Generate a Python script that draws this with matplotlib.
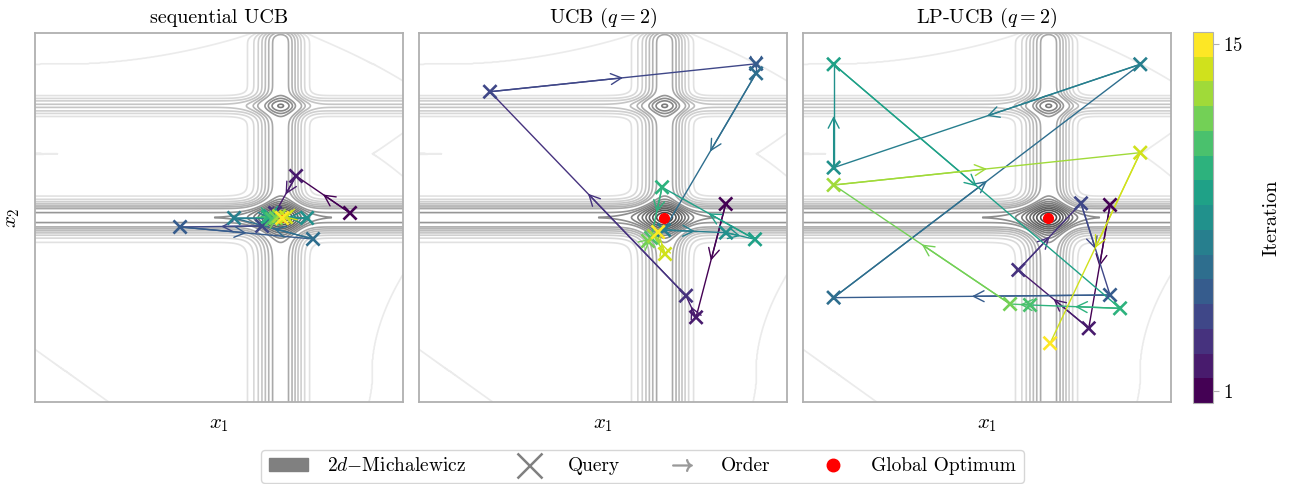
import numpy as np
import matplotlib.pyplot as plt
import matplotlib.colors as mcolors
import matplotlib.patches as mpatches
from matplotlib.cm import ScalarMappable
from matplotlib.lines import Line2D

plt.rcParams['font.family'] = 'serif'
plt.rcParams['font.serif'] = ['cmr10']
plt.rcParams['mathtext.fontset'] = 'cm'
plt.rcParams['axes.formatter.use_mathtext'] = True
plt.rcParams['axes.unicode_minus'] = False

#----------------------------------------------------------------
#   queries (x1, x2) per iteration
#----------------------------------------------------------------
seq_x1 = [2.913, 2.360, 2.145, 2.012, 1.172, 2.534, 1.725, 2.473,
          2.094, 2.073, 2.114, 2.155, 2.186, 2.257, 2.217]
seq_x2 = [1.617, 1.995, 1.617, 1.484, 1.474, 1.351, 1.566, 1.566,
          1.586, 1.576, 1.556, 1.566, 1.586, 1.576, 1.566]

ucb_x1 = [2.828, 2.524, 2.421, 0.413, 3.139, 3.139, 2.196, 2.831,
          3.128, 2.176, 2.063, 2.032, 2.094, 2.206, 2.135]
ucb_x2 = [1.709, 0.551, 0.772, 2.856, 3.141, 3.044, 1.443, 1.416,
          1.348, 1.880, 1.362, 1.331, 1.382, 1.198, 1.423]

lp_x1 = [2.831, 2.613, 1.892, 2.534, 2.831, 0.000, 3.141, 0.000,
         0.000, 2.934, 2.012, 1.807, 0.000, 3.141, 2.217]
lp_x2 = [1.699, 0.439, 1.035, 1.716, 0.779, 0.752, 3.136, 2.080,
         3.136, 0.643, 0.677, 0.687, 1.903, 2.233, 0.286]

x_opt = [2.20, 1.57]
titles = ['sequential UCB', r'UCB ($q=2$)', r'LP-UCB ($q=2$)']
n_iter = 15

def michalewicz(x1, x2, m=10):
    return -(np.sin(x1)*np.sin(x1**2/np.pi)**(2*m)
             + np.sin(x2)*np.sin(2*x2**2/np.pi)**(2*m))

lo, hi = -0.1*np.pi, 1.1*np.pi
g = np.linspace(lo, hi, 600)
X1, X2 = np.meshgrid(g, g)
Z = michalewicz(X1, X2)
# -0.8 sits right on the crest of the x1 ridge, leave it out
levels = np.r_[np.linspace(-1.8, -0.9, 10), np.linspace(-0.7, 0.0, 8)]
lev_cols = [str(0.26 + 0.66*(l + 1.8)/1.8) for l in levels]

cmap = plt.get_cmap('viridis', n_iter)
norm = mcolors.BoundaryNorm(np.arange(0.5, n_iter + 1.5), n_iter)
spine_col = '#b0b0b0'

fig = plt.figure(figsize=(12.93, 4.84), dpi=100)
lefts = [35/1293, 419/1293, 803/1293]
axes = [fig.add_axes([l, 82/484, 368/1293, 369/484]) for l in lefts]

runs = [(seq_x1, seq_x2), (ucb_x1, ucb_x2), (lp_x1, lp_x2)]
for ax, (xs, ys), title in zip(axes, runs, titles):
    ax.contour(X1, X2, Z, levels=levels, colors=lev_cols, linewidths=1.2, zorder=1)
    for i in range(len(xs) - 1):
        c = cmap(i)
        ax.plot([xs[i], xs[i+1]], [ys[i], ys[i+1]], color=c, lw=1.0, zorder=2)
        mid = ((xs[i] + xs[i+1])/2, (ys[i] + ys[i+1])/2)
        ax.annotate('', xy=mid, xytext=(xs[i], ys[i]),
                    arrowprops=dict(arrowstyle='->,head_length=0.55,head_width=0.28',
                                    color=c, lw=1.0, shrinkA=0, shrinkB=0,
                                    mutation_scale=14), zorder=2)
    ax.plot(x_opt[0], x_opt[1], 'o', color='red', ms=7, zorder=3)
    ax.scatter(xs, ys, c=np.arange(1, n_iter + 1), cmap=cmap, norm=norm,
               marker='x', s=90, linewidths=1.9, zorder=4)
    ax.set_xlim(lo, hi)
    ax.set_ylim(lo, hi)
    ax.set_xticks([])
    ax.set_yticks([])
    for sp in ax.spines.values():
        sp.set_color(spine_col)
        sp.set_linewidth(1.3)
    ax.set_title(title, fontsize=14.5, pad=7)
    ax.set_xlabel(r'$x_1$', fontsize=15, labelpad=10)
axes[0].set_ylabel(r'$x_2$', fontsize=15, labelpad=9)

cax = fig.add_axes([1193/1293, 81/484, 19.5/1293, 371/484])
cb = fig.colorbar(ScalarMappable(norm=norm, cmap=cmap), cax=cax, ticks=[1, 15])
cb.ax.minorticks_off()
cb.outline.set_edgecolor(spine_col)
cb.ax.tick_params(labelsize=13.5, color=spine_col, length=4)
cb.set_label('Iteration', fontsize=14.5, labelpad=14)

handles = [mpatches.Patch(color='grey', label=r'$2d{-}$Michalewicz'),
           Line2D([], [], ls='', marker='x', color='grey', ms=18, mew=1.8, label='Query'),
           Line2D([], [], ls='', marker=r'$\rightarrow$', color='#999999', ms=14, label='Order'),
           Line2D([], [], ls='', marker='o', color='red', ms=9, label='Global Optimum')]
fig.legend(handles=handles, loc='upper center', bbox_to_anchor=(0.497, 0.071),
           borderaxespad=0, ncol=4, fontsize=14, frameon=True, edgecolor='#cccccc',
           columnspacing=2.2, handletextpad=1.0)

fig.savefig('out.png', dpi=100)
